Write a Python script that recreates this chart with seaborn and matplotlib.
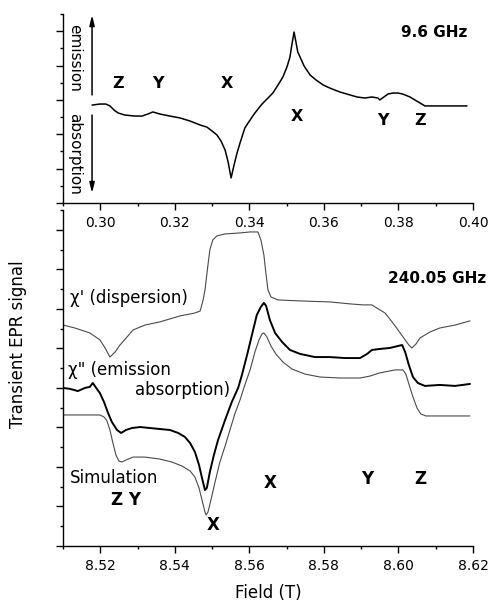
import matplotlib
matplotlib.use("Agg")
import matplotlib.pyplot as plt
import seaborn as sns
import pandas as pd
from matplotlib.ticker import MultipleLocator, FormatStrFormatter, NullFormatter

# ---- 9.6 GHz (X-band) transient EPR trace ----
xband_field = [0.2978, 0.2999, 0.3015, 0.3026, 0.3037, 0.3048, 0.3066, 0.3093, 0.3112, 0.3128,
               0.3141, 0.3160, 0.3187, 0.3214, 0.3241, 0.3268, 0.3286, 0.3300, 0.3313, 0.3324,
               0.3335, 0.3343, 0.3351, 0.3359, 0.3367, 0.3375, 0.3388, 0.3402, 0.3415, 0.3434,
               0.3450, 0.3463, 0.3477, 0.3490, 0.3501, 0.3509, 0.3514, 0.3520, 0.3525, 0.3530,
               0.3536, 0.3547, 0.3563, 0.3579, 0.3598, 0.3616, 0.3643, 0.3670, 0.3689, 0.3710,
               0.3729, 0.3745, 0.3750, 0.3761, 0.3772, 0.3785, 0.3799, 0.3812, 0.3831, 0.3844,
               0.3858, 0.3871, 0.3898, 0.3925, 0.3952, 0.3984]
xband_signal = [5.70, 5.76, 5.76, 5.65, 5.41, 5.24, 5.12, 5.06, 5.06, 5.18,
                5.30, 5.18, 5.06, 4.95, 4.77, 4.54, 4.42, 4.19, 3.96, 3.61,
                3.08, 2.39, 1.46, 2.21, 2.91, 3.49, 4.37, 4.83, 5.24, 5.76,
                6.11, 6.40, 6.87, 7.33, 7.92, 8.50, 9.20, 9.95, 9.37, 8.79,
                8.50, 7.97, 7.45, 7.16, 6.87, 6.69, 6.46, 6.29, 6.17, 6.11,
                6.17, 6.11, 6.00, 6.17, 6.34, 6.40, 6.40, 6.34, 6.17, 6.00,
                5.82, 5.65, 5.65, 5.65, 5.65, 5.65]

# ---- 240.05 GHz: dispersion chi' ----
disp_field = [8.5100, 8.5132, 8.5172, 8.5199, 8.5213, 8.5226, 8.5240, 8.5253, 8.5272, 8.5288,
              8.5307, 8.5320, 8.5360, 8.5414, 8.5454, 8.5468, 8.5476, 8.5481, 8.5489, 8.5494,
              8.5502, 8.5513, 8.5535, 8.5575, 8.5602, 8.5623, 8.5631, 8.5639, 8.5645, 8.5650,
              8.5658, 8.5677, 8.5736, 8.5816, 8.5870, 8.5905, 8.5929, 8.5942, 8.5964, 8.5983,
              8.5999, 8.6018, 8.6028, 8.6036, 8.6047, 8.6058, 8.6085, 8.6111, 8.6152, 8.6192]
disp_signal = [11.18, 11.03, 10.78, 10.43, 10.02, 9.56, 9.82, 10.17, 10.58, 10.93,
               11.08, 11.18, 11.34, 11.64, 11.79, 11.89, 12.45, 12.96, 14.22, 14.98,
               15.49, 15.69, 15.79, 15.84, 15.89, 15.89, 15.49, 14.73, 13.71, 12.96,
               12.60, 12.45, 12.40, 12.35, 12.25, 12.20, 12.20, 12.04, 11.79, 11.34,
               10.93, 10.43, 10.17, 10.02, 10.22, 10.53, 10.83, 11.03, 11.18, 11.39]

# ---- 240.05 GHz: emission/absorption chi'' ----
abs_field = [8.5100, 8.5119, 8.5140, 8.5159, 8.5172, 8.5180, 8.5189, 8.5199, 8.5210, 8.5221,
             8.5231, 8.5245, 8.5256, 8.5269, 8.5285, 8.5307, 8.5333, 8.5360, 8.5387, 8.5409,
             8.5427, 8.5441, 8.5454, 8.5465, 8.5473, 8.5481, 8.5486, 8.5494, 8.5505, 8.5516,
             8.5535, 8.5553, 8.5570, 8.5580, 8.5594, 8.5607, 8.5620, 8.5631, 8.5639, 8.5645,
             8.5655, 8.5669, 8.5688, 8.5709, 8.5736, 8.5776, 8.5816, 8.5857, 8.5897, 8.5916,
             8.5929, 8.5950, 8.5977, 8.5999, 8.6010, 8.6018, 8.6028, 8.6039, 8.6052, 8.6071,
             8.6111, 8.6152, 8.6192]
abs_signal = [8.00, 7.95, 7.84, 8.00, 8.05, 8.25, 8.00, 7.74, 7.29, 6.73,
              6.28, 5.87, 5.72, 5.87, 5.97, 6.02, 5.97, 5.92, 5.87, 5.72,
              5.52, 5.21, 4.76, 4.10, 3.44, 2.83, 2.94, 3.74, 4.61, 5.36,
              6.38, 7.29, 8.00, 8.65, 9.67, 10.68, 11.69, 12.10, 12.30, 12.15,
              11.44, 10.78, 10.32, 9.92, 9.72, 9.56, 9.56, 9.51, 9.51, 9.72,
              9.92, 9.97, 10.02, 10.12, 10.17, 9.82, 9.16, 8.55, 8.25, 8.10,
              8.15, 8.10, 8.20]

# ---- 240.05 GHz: simulation ----
sim_field = [8.5100, 8.5146, 8.5199, 8.5210, 8.5218, 8.5226, 8.5234, 8.5242, 8.5250, 8.5258,
             8.5269, 8.5288, 8.5320, 8.5360, 8.5392, 8.5419, 8.5441, 8.5454, 8.5465, 8.5473,
             8.5481, 8.5484, 8.5489, 8.5497, 8.5508, 8.5521, 8.5535, 8.5548, 8.5561, 8.5575,
             8.5588, 8.5602, 8.5615, 8.5626, 8.5634, 8.5639, 8.5647, 8.5658, 8.5671, 8.5690,
             8.5714, 8.5749, 8.5790, 8.5843, 8.5897, 8.5924, 8.5950, 8.5991, 8.6012, 8.6020,
             8.6028, 8.6039, 8.6050, 8.6060, 8.6074, 8.6111, 8.6192]
sim_signal = [6.63, 6.63, 6.63, 6.53, 6.33, 5.87, 5.21, 4.61, 4.30, 4.25,
              4.35, 4.50, 4.50, 4.40, 4.25, 4.05, 3.80, 3.49, 2.94, 2.33,
              1.72, 1.57, 1.72, 2.33, 3.24, 4.25, 5.06, 5.87, 6.68, 7.39,
              8.15, 8.91, 9.82, 10.43, 10.73, 10.78, 10.58, 10.12, 9.72, 9.31,
              8.96, 8.70, 8.55, 8.50, 8.50, 8.60, 8.76, 8.91, 8.91, 8.70,
              8.20, 7.54, 6.98, 6.68, 6.58, 6.58, 6.58]

sns.set_style("ticks")
plt.rcParams["font.family"] = ["DejaVu Sans"]
plt.rcParams["axes.linewidth"] = 1.0
plt.rcParams["text.color"] = "black"
plt.rcParams["axes.labelcolor"] = "black"

fig = plt.figure(figsize=(4.89, 6.04), dpi=100)
ax_bot = fig.add_axes([0.1288, 0.0960, 0.8384, 0.5563])
ax_top = fig.add_axes([0.1288, 0.6639, 0.8384, 0.3129])
ax_bot.patch.set_alpha(0)
ax_top.patch.set_alpha(0)

# ---------- upper panel ----------
xband = pd.DataFrame({"field": xband_field, "signal": xband_signal})
sns.lineplot(data=xband, x="field", y="signal", ax=ax_top, color="black",
             lw=1.1, estimator=None, sort=False)
ax_top.set_xlim(0.29, 0.40)
ax_top.set_ylim(0, 11)

ax_top.annotate("", xy=(0.2978, 10.94), xytext=(0.2978, 6.29),
                arrowprops=dict(arrowstyle="-|>,head_length=0.6,head_width=0.15",
                                color="black", lw=1.1, shrinkA=0, shrinkB=0))
ax_top.annotate("", xy=(0.2978, 0.58), xytext=(0.2978, 5.12),
                arrowprops=dict(arrowstyle="-|>,head_length=0.6,head_width=0.15",
                                color="black", lw=1.1, shrinkA=0, shrinkB=0))
ax_top.text(0.2932, 8.44, "emission", rotation=270, ha="center", va="center", fontsize=11)
ax_top.text(0.2932, 2.85, "absorption", rotation=270, ha="center", va="center", fontsize=11)

for s, x, y in [("Z", 0.3048, 6.98), ("Y", 0.3155, 6.98), ("X", 0.3340, 6.98),
                ("X", 0.3528, 5.01), ("Y", 0.3759, 4.83), ("Z", 0.3858, 4.83)]:
    ax_top.text(x, y, s, ha="center", va="center", fontsize=11.5, fontweight="bold")
ax_top.text(0.3984, 9.95, "9.6 GHz", ha="right", va="center", fontsize=11, fontweight="bold")

# ---------- lower panel ----------
disp = pd.DataFrame({"field": disp_field, "signal": disp_signal})
absn = pd.DataFrame({"field": abs_field, "signal": abs_signal})
sim = pd.DataFrame({"field": sim_field, "signal": sim_signal})
sns.lineplot(data=disp, x="field", y="signal", ax=ax_bot, color="#4a4a4a",
             lw=0.8, estimator=None, sort=False)
sns.lineplot(data=absn, x="field", y="signal", ax=ax_bot, color="black",
             lw=1.4, estimator=None, sort=False)
sns.lineplot(data=sim, x="field", y="signal", ax=ax_bot, color="#4a4a4a",
             lw=0.8, estimator=None, sort=False)
ax_bot.set_xlim(8.51, 8.62)
ax_bot.set_ylim(0, 17)

ax_bot.text(8.6103, 13.56, "240.05 GHz", ha="center", va="center", fontsize=11, fontweight="bold")
ax_bot.text(8.5119, 12.55, "\u03c7' (dispersion)", ha="left", va="center", fontsize=12)
ax_bot.text(8.5113, 8.91, "\u03c7\" (emission", ha="left", va="center", fontsize=12)
ax_bot.text(8.5422, 7.89, "absorption)", ha="center", va="center", fontsize=12)
ax_bot.text(8.5119, 3.44, "Simulation", ha="left", va="center", fontsize=12)
ax_bot.text(8.5269, 2.33, "Z Y", ha="center", va="center", fontsize=12, fontweight="bold")
for s, x, y in [("X", 8.5502, 1.06), ("X", 8.5655, 3.19),
                ("Y", 8.5916, 3.39), ("Z", 8.6058, 3.39)]:
    ax_bot.text(x, y, s, ha="center", va="center", fontsize=12, fontweight="bold")

# ---------- axes styling ----------
for ax in (ax_top, ax_bot):
    sns.despine(ax=ax)
    ax.set_xlabel("")
    ax.set_ylabel("")
    ax.xaxis.set_major_locator(MultipleLocator(0.02))
    ax.xaxis.set_minor_locator(MultipleLocator(0.01))
    ax.xaxis.set_major_formatter(FormatStrFormatter("%.2f"))
    ax.yaxis.set_major_locator(MultipleLocator(2))
    ax.yaxis.set_minor_locator(MultipleLocator(1))
    ax.yaxis.set_major_formatter(NullFormatter())
    ax.tick_params(which="major", direction="out", length=5, width=1.0,
                   labelsize=10, pad=4, colors="black")
    ax.tick_params(which="minor", direction="out", length=2.5, width=1.0, colors="black")
    for sp in ax.spines.values():
        sp.set_color("black")

fig.text(18 / 489, 1 - 344 / 604, "Transient EPR signal", rotation=90,
         ha="center", va="center", fontsize=12)
fig.text(268 / 489, 1 - 593 / 604, "Field (T)", ha="center", va="center", fontsize=12)

fig.savefig("out.png", dpi=100)
